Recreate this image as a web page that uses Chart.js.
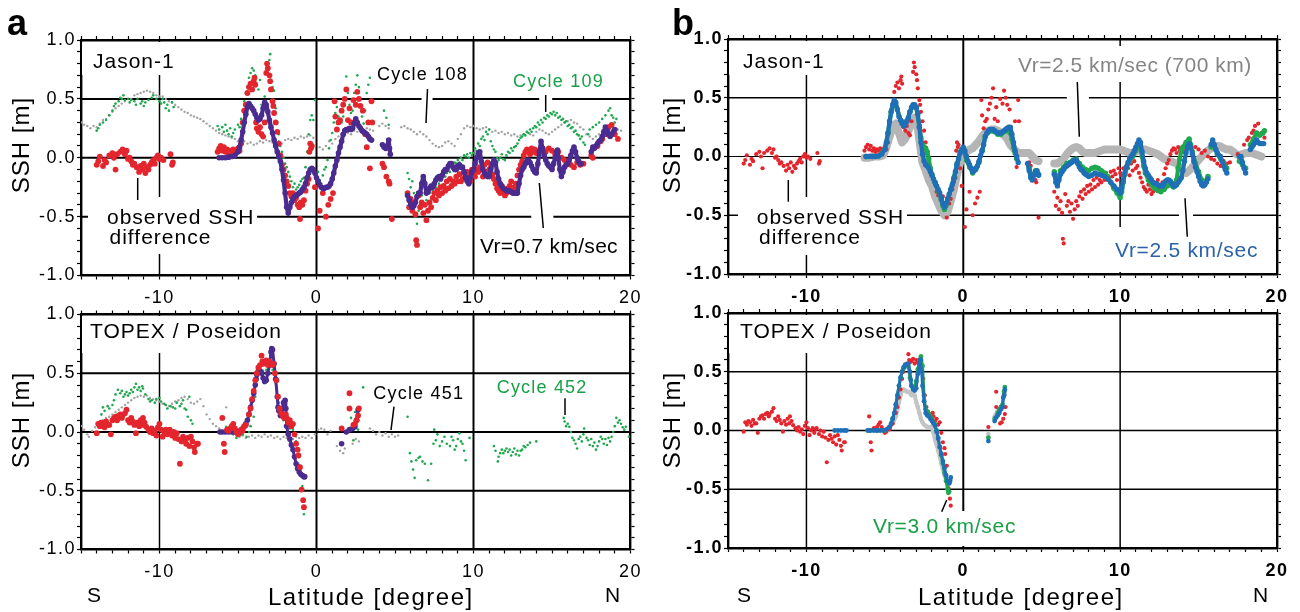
<!DOCTYPE html>
<html><head><meta charset="utf-8">
<script src="https://cdn.jsdelivr.net/npm/chart.js@4.4.1/dist/chart.umd.min.js"></script>
<style>
html,body{margin:0;padding:0;background:#fff;width:1300px;height:612px;overflow:hidden;position:relative}
canvas{position:absolute}
</style></head><body>
<canvas id="cA1" width="650" height="312" style="left:0px;top:0px"></canvas>
<canvas id="cA2" width="650" height="312" style="left:0px;top:300px"></canvas>
<canvas id="cB1" width="650" height="312" style="left:650px;top:0px"></canvas>
<canvas id="cB2" width="650" height="312" style="left:650px;top:300px"></canvas>
<script>
// ---------------- tick labels ----------------
const xTickValues = [-10, 0, 10, 20];
const xTickLabels = ['-10', '0', '10', '20'];
const yTickValues = [-1, -0.5, 0, 0.5, 1];
const yTickLabels = ['-1.0', '-0.5', '0.0', '0.5', '1.0'];

// ---------------- Jason-1 ----------------
const jasonObs = [[-14.0,-0.06],[-13.9,-0.03],[-13.8,0.01],[-13.6,-0.07],[-13.5,-0.02],[-13.4,-0.04],[-13.2,0.02],[-13.0,0.04],[-12.9,0.0],[-12.8,-0.1],[-12.7,0.03],[-12.5,0.05],[-12.35,0.07],[-12.2,0.03],[-12.1,0.06],[-12.0,-0.01],[-11.9,0.0],[-11.8,-0.03],[-11.7,-0.06],[-11.6,-0.05],[-11.45,-0.08],[-11.3,-0.12],[-11.2,-0.07],[-11.1,-0.1],[-11.0,-0.05],[-10.9,-0.13],[-10.8,-0.08],[-10.7,-0.1],[-10.6,-0.06],[-10.5,-0.04],[-10.4,-0.02],[-10.3,-0.05],[-10.2,0.0],[-10.1,0.02],[-10.0,-0.01],[-9.9,0.0],[-9.75,-0.02],[-9.3,0.03],[-9.2,-0.06],[-9.15,-0.04],
[-6.3,0.05],[-6.2,0.08],[-6.1,0.1],[-6.0,0.06],[-5.9,0.09],[-5.8,0.05],[-5.7,0.07],[-5.6,0.04],[-5.5,0.06],[-5.4,0.05],[-5.3,0.07],[-5.2,0.04],[-5.1,0.06],[-5.0,0.08],[-4.9,0.06],[-4.8,0.12],
[-4.7,0.3],[-4.6,0.4],[-4.5,0.45],[-4.4,0.55],[-4.3,0.6],[-4.2,0.63],[-4.1,0.58],[-4.0,0.65],[-3.95,0.68],[-3.9,0.62],[-3.85,0.3],[-3.8,0.25],[-3.7,0.22],[-3.6,0.26],[-3.5,0.2],[-3.4,0.18],[-3.3,0.3],[-3.2,0.72],[-3.15,0.8],[-3.1,0.76],[-3.0,0.7],[-2.95,0.65],[-2.9,0.58],[-2.8,0.48],[-2.75,0.44],[-2.7,0.38],[-2.6,0.3],[-2.5,0.22],[-2.4,0.12],[-2.3,0.02],[-2.2,-0.06],[-2.1,-0.1],[-2.0,-0.15],[-1.9,-0.2],[-1.8,-0.24],[-1.7,-0.3],[-1.6,-0.33],[-1.5,-0.3],[-1.4,-0.36],[-1.3,-0.34],[-1.2,-0.4],[-1.1,-0.42],[-1.05,-0.52],[-1.0,-0.38],[-0.9,-0.4],[-0.8,-0.36],[-0.7,-0.28],[-0.6,-0.22],[-0.5,-0.18],[-0.45,0.05],[-0.4,0.12],[-0.35,0.08],[-0.3,0.1],[-0.2,-0.1],[-0.1,-0.25],[0.1,-0.6],[0.2,-0.45],[0.4,-0.3],[0.6,-0.5],[0.75,-0.4],[0.9,-0.35],[1.05,-0.3],[1.15,0.48],[1.2,0.35],[1.3,0.24],[1.4,0.3],[1.5,0.32],[1.6,0.4],[1.7,0.45],[1.8,0.5],[1.9,0.58],[2.0,0.32],[2.1,0.42],[2.2,0.3],[2.35,0.49],[2.5,0.45],[2.6,0.56],[2.7,0.5],[2.8,0.44],[2.95,0.4],[3.1,0.2],[3.2,0.09],[3.3,0.3],[3.4,-0.09],[3.5,0.48],[3.55,0.3],[4.2,-0.05],[4.3,-0.08],[4.45,-0.16],[4.6,-0.2],[4.65,-0.22],[4.8,-0.52],
[5.8,-0.3],[5.9,-0.42],[6.0,-0.35],[6.1,-0.45],[6.2,-0.38],[6.3,-0.48],[6.35,-0.7],[6.4,-0.74],[6.5,-0.32],[6.6,-0.42],[6.7,-0.38],[6.8,-0.47],[6.9,-0.4],[7.0,-0.53],[7.1,-0.45],[7.2,-0.38],[7.3,-0.42],[7.4,-0.34],[7.5,-0.3],[7.6,-0.36],[7.7,-0.28],[7.8,-0.32],[7.9,-0.25],[8.0,-0.3],[8.1,-0.24],[8.2,-0.28],[8.3,-0.2],[8.4,-0.26],[8.5,-0.18],[8.6,-0.24],[8.7,-0.2],[8.8,-0.22],[8.9,-0.16],[9.0,-0.2],[9.1,-0.14],[9.2,-0.2],[9.3,-0.18],[9.4,-0.13],[9.5,-0.17],[9.6,-0.12],[9.7,-0.15],[9.8,-0.2],[9.9,-0.1],[10.0,-0.14],[10.1,-0.16],[10.2,-0.1],[10.3,-0.12],[10.4,-0.08],[10.5,-0.1],[10.6,-0.16],[10.7,-0.06],[10.8,-0.12],[10.9,-0.04],[11.0,-0.1],[11.1,-0.08],[11.2,-0.14],[11.3,-0.18],[11.4,-0.22],[11.5,-0.26],[11.6,-0.28],[11.7,-0.3],[11.8,-0.24],[11.9,-0.28],[12.0,-0.32],[12.1,-0.3],[12.2,-0.26],[12.3,-0.24],[12.4,-0.2],[12.5,-0.28],[12.6,-0.25],[12.7,-0.22],[12.8,-0.15],[12.9,-0.1],[13.0,-0.06],[13.1,-0.03],[13.2,0.02],[13.3,0.05],[13.4,0.07],[13.5,0.06],[13.6,0.03],[13.7,0.08],[13.8,0.05],[13.9,0.07],[14.0,0.04],[14.2,0.06],[14.4,0.08],[14.6,0.05],[14.8,0.08],[15.0,0.06],[15.2,0.03],[15.4,0.05],[15.6,0.0],[15.8,-0.02],[16.0,-0.03],[16.2,-0.06],[16.4,-0.08],[16.6,-0.04],[16.8,-0.06],[17.0,-0.05],[17.5,0.02],[17.6,0.0],[17.9,0.1],[18.1,0.14],[18.2,0.16],[18.4,0.2],[18.5,0.22],[18.6,0.26],[18.8,0.28],[19.0,0.2],[19.2,0.16]];

const jasonCycle108 = [[-15.0,0.3],[-14.8,0.28],[-14.6,0.27],[-14.4,0.25],[-14.2,0.27],[-14.0,0.26],[-13.8,0.29],[-13.6,0.32],[-13.4,0.33],[-13.2,0.36],[-13.0,0.39],[-12.8,0.42],[-12.6,0.44],[-12.4,0.46],[-12.2,0.48],[-12.0,0.5],[-11.8,0.5],[-11.6,0.53],[-11.4,0.54],[-11.2,0.55],[-11.0,0.56],[-10.8,0.57],[-10.6,0.56],[-10.4,0.55],[-10.2,0.53],[-10.0,0.52],[-9.8,0.52],[-9.6,0.5],[-9.4,0.48],[-9.2,0.47],[-9.0,0.45],[-8.8,0.43],[-8.6,0.41],[-8.4,0.39],[-8.2,0.38],[-8.0,0.36],[-7.8,0.35],[-7.6,0.34],[-7.4,0.33],[-7.2,0.31],[-7.0,0.29],[-6.8,0.27],[-6.6,0.25],[-6.4,0.23],[-6.2,0.21],[-6.0,0.2],[-5.8,0.19],[-5.6,0.18],[-5.4,0.17],[-5.2,0.16],[-5.0,0.14],[-4.8,0.13],[-4.6,0.14],[-4.4,0.12],[-4.2,0.13],[-4.0,0.11],[-3.8,0.12],[-3.6,0.14],[-3.4,0.13],[-3.2,0.15],[-3.0,0.14],[-2.8,0.13],[-2.6,0.15],[-2.4,0.14],[-2.2,0.12],[-2.0,0.15],[-1.8,0.16],[-1.6,0.15],[-1.4,0.17],[-1.2,0.16],[-1.0,0.18],[-0.8,0.17],[-0.6,0.18],[-0.4,0.19],[-0.2,0.17],[0.2,0.09],[0.4,0.07],[0.6,0.1],[0.8,0.14],[1.0,0.12],[1.2,0.16],[1.4,0.18],[1.6,0.2],[1.8,0.19],[2.0,0.21],[2.2,0.2],[2.4,0.23],[2.6,0.22],[2.8,0.24],[3.0,0.23],[3.2,0.25],[3.4,0.24],[3.6,0.23],[4.0,0.27],[4.2,0.29],[4.4,0.27],[4.6,0.25],[5.4,0.26],[5.6,0.27],[5.8,0.25],[6.0,0.24],[6.2,0.22],[6.4,0.2],[6.6,0.22],[6.8,0.2],[7.0,0.18],[7.2,0.15],[7.4,0.12],[7.6,0.1],[7.8,0.09],[8.0,0.1],[8.2,0.13],[8.4,0.14],[8.6,0.12],[8.8,0.1],[9.0,0.16],[9.2,0.2],[9.4,0.25],[9.6,0.27],[9.8,0.26],[10.0,0.27],[10.2,0.25],[10.4,0.24],[10.6,0.25],[10.8,0.26],[11.0,0.24],[11.2,0.22],[11.4,0.23],[11.6,0.21],[11.8,0.22],[12.0,0.2],[12.2,0.21],[12.4,0.19],[12.6,0.2],[12.8,0.18],[13.0,0.19],[13.2,0.2],[13.4,0.22],[13.6,0.2],[13.8,0.19],[14.0,0.22],[14.2,0.24],[14.4,0.23],[14.6,0.21],[14.8,0.2],[15.0,0.22],[15.2,0.24],[15.4,0.26],[15.6,0.28],[15.8,0.3],[16.0,0.31],[16.2,0.32],[16.4,0.3],[16.6,0.29],[16.8,0.26],[17.0,0.24],[17.2,0.2],[17.4,0.18],[17.6,0.16],[17.8,0.18],[18.0,0.2],[18.2,0.22],[18.4,0.25],[18.6,0.27],[18.8,0.26],[19.0,0.25],[19.2,0.24],[19.4,0.23]];

const jasonCycle109 = [[-14.0,0.23],[-13.9,0.25],[-13.8,0.28],[-13.6,0.3],[-13.4,0.32],[-13.2,0.36],[-13.0,0.4],[-12.9,0.44],[-12.8,0.46],[-12.6,0.48],[-12.5,0.51],[-12.4,0.5],[-12.3,0.53],[-12.2,0.49],[-12.0,0.5],[-11.9,0.47],[-11.8,0.49],[-11.6,0.48],[-11.5,0.45],[-11.4,0.5],[-11.2,0.46],[-11.1,0.48],[-11.0,0.44],[-10.9,0.47],[-10.7,0.49],[-10.5,0.51],[-10.4,0.53],[-10.2,0.5],[-10.0,0.48],[-9.9,0.46],[-9.8,0.5],[-9.7,0.47],[-9.6,0.42],[-9.5,0.45],[-9.4,0.4],[-9.2,0.47],[-9.1,0.43],
[-6.3,0.27],[-6.2,0.24],[-6.0,0.26],[-5.9,0.22],[-5.8,0.28],[-5.7,0.23],[-5.6,0.2],[-5.5,0.25],[-5.4,0.18],[-5.3,0.21],[-5.2,0.24],[-5.0,0.28],[-4.9,0.26],[-4.8,0.33],[-4.7,0.4],[-4.6,0.48],[-4.5,0.55],[-4.4,0.6],[-4.3,0.68],[-4.2,0.72],[-4.1,0.76],[-4.0,0.74],[-3.9,0.7],[-3.8,0.62],[-3.7,0.58],[-3.6,0.66],[-3.5,0.45],[-3.4,0.4],[-3.3,0.52],[-3.2,0.8],[-3.1,0.75],[-3.0,0.83],[-2.95,0.88],[-2.9,0.7],[-2.8,0.6],[-2.7,0.57],[-2.6,0.42],[-2.5,0.3],[-2.4,0.2],[-2.3,0.1],[-2.2,0.05],[-2.1,0.0],[-2.0,-0.05],[-1.9,-0.08],[-1.8,-0.12],[-1.7,-0.16],[-1.6,-0.2],[-1.5,-0.25],[-1.4,-0.22],[-1.3,-0.27],[-1.2,-0.25],[-1.1,-0.23],[-1.0,-0.2],[-0.9,-0.18],[-0.8,-0.17],[-0.7,-0.08],[-0.6,0.05],[-0.5,0.2],[-0.4,0.32],[-0.3,0.36],[-0.2,0.32],[-0.1,0.49],[0.1,-0.12],[0.2,-0.19],[0.3,-0.22],[0.4,-0.15],[0.5,-0.1],[0.6,-0.08],[0.7,-0.02],[0.8,0.08],[0.9,0.15],[1.0,0.21],[1.1,0.3],[1.2,0.38],[1.3,0.43],[1.4,0.35],[1.5,0.4],[1.6,0.3],[1.7,0.35],[1.8,0.5],[1.9,0.69],[2.0,0.55],[2.1,0.45],[2.2,0.38],[2.3,0.4],[2.4,0.55],[2.5,0.62],[2.6,0.7],[2.7,0.6],[2.8,0.45],[2.9,0.35],[3.0,0.29],[3.1,0.4],[3.2,0.55],[3.3,0.62],[3.4,0.68],[3.5,0.3],[3.6,0.15],[4.3,0.4],[4.45,0.34],[4.6,0.28],
[5.8,-0.13],[5.9,-0.18],[6.0,-0.25],[6.1,-0.2],[6.2,-0.3],[6.3,-0.5],[6.4,-0.56],[6.5,-0.45],[6.6,-0.4],[6.7,-0.32],[6.8,-0.38],[6.9,-0.3],[7.0,-0.36],[7.1,-0.28],[7.2,-0.3],[7.3,-0.24],[7.4,-0.28],[7.5,-0.22],[7.6,-0.25],[7.7,-0.18],[7.8,-0.22],[7.9,-0.15],[8.0,-0.18],[8.1,-0.12],[8.2,-0.16],[8.3,-0.13],[8.4,-0.08],[8.5,-0.12],[8.6,-0.06],[8.7,-0.09],[8.8,-0.04],[8.9,-0.05],[9.0,-0.02],[9.1,-0.04],[9.2,0.0],[9.3,-0.02],[9.4,0.02],[9.5,0.01],[9.6,0.03],[9.7,0.0],[9.8,0.04],[9.9,0.02],[10.0,0.04],[10.1,0.08],[10.2,0.06],[10.3,0.12],[10.4,0.1],[10.5,0.16],[10.6,0.18],[10.7,0.15],[10.8,0.22],[10.9,0.2],[11.0,0.24],[11.1,0.14],[11.2,0.1],[11.3,0.07],[11.4,0.05],[11.5,0.0],[11.6,-0.02],[11.7,0.0],[11.8,0.03],[11.9,-0.01],[12.0,-0.02],[12.1,0.02],[12.2,0.05],[12.3,0.04],[12.4,0.08],[12.5,0.06],[12.6,0.09],[12.7,0.1],[12.8,0.12],[12.9,0.15],[13.0,0.17],[13.1,0.18],[13.2,0.2],[13.3,0.19],[13.4,0.22],[13.5,0.21],[13.6,0.24],[13.7,0.22],[13.8,0.25],[13.9,0.27],[14.0,0.26],[14.1,0.3],[14.2,0.28],[14.3,0.32],[14.4,0.3],[14.5,0.34],[14.6,0.33],[14.7,0.36],[14.8,0.35],[14.9,0.38],[15.0,0.37],[15.1,0.39],[15.2,0.36],[15.3,0.38],[15.4,0.34],[15.5,0.35],[15.6,0.32],[15.7,0.33],[15.8,0.3],[15.9,0.31],[16.0,0.27],[16.1,0.28],[16.2,0.25],[16.3,0.26],[16.4,0.22],[16.5,0.23],[16.6,0.2],[16.7,0.19],[16.8,0.16],[16.9,0.18],[17.0,0.13],[17.1,0.11],[17.3,0.2],[17.4,0.24],[17.6,0.26],[17.8,0.28],[18.0,0.3],[18.2,0.33],[18.4,0.36],[18.6,0.4],[18.7,0.42],[18.8,0.36],[18.9,0.34],[19.0,0.3],[19.1,0.33]];

const jasonVr07 = [[-6.2,0.0],[-6.0,0.0],[-5.8,0.0],[-5.6,0.005],[-5.4,0.01],[-5.2,0.02],[-5.0,0.05],[-4.9,0.09],[-4.8,0.15],[-4.7,0.22],[-4.6,0.3],[-4.5,0.37],[-4.4,0.43],[-4.3,0.46],[-4.2,0.44],[-4.1,0.42],[-4.0,0.4],[-3.9,0.37],[-3.8,0.34],[-3.7,0.32],[-3.6,0.33],[-3.5,0.36],[-3.4,0.42],[-3.3,0.47],[-3.2,0.45],[-3.1,0.39],[-3.0,0.32],[-2.9,0.26],[-2.8,0.21],[-2.7,0.15],[-2.6,0.1],[-2.5,0.05],[-2.4,0.01],[-2.3,-0.03],[-2.2,-0.1],[-2.1,-0.19],[-2.0,-0.3],[-1.9,-0.42],[-1.8,-0.47],[-1.7,-0.42],[-1.6,-0.38],[-1.5,-0.35],[-1.4,-0.33],[-1.3,-0.32],[-1.2,-0.31],[-1.1,-0.3],[-1.0,-0.29],[-0.9,-0.27],[-0.8,-0.25],[-0.7,-0.22],[-0.6,-0.17],[-0.5,-0.13],[-0.4,-0.1],[-0.3,-0.09],[-0.2,-0.1],[-0.1,-0.13],[0.0,-0.17],[0.1,-0.2],[0.2,-0.23],[0.3,-0.25],[0.4,-0.26],[0.5,-0.26],[0.6,-0.25],[0.7,-0.25],[0.8,-0.24],[0.9,-0.22],[1.0,-0.18],[1.1,-0.13],[1.2,-0.07],[1.3,-0.02],[1.4,0.04],[1.5,0.09],[1.6,0.14],[1.7,0.2],[1.8,0.23],[1.9,0.24],[2.0,0.24],[2.1,0.25],[2.2,0.24],[2.3,0.25],[2.4,0.29],[2.5,0.33],[2.6,0.3],[2.7,0.27],[2.8,0.25],[2.9,0.23],[3.0,0.22],[3.1,0.21],[3.2,0.2],[3.3,0.18],[3.4,0.16],[3.5,0.15],null,
[4.2,0.11],[4.3,0.09],[4.4,0.08],[4.5,0.1],[4.6,0.15],[4.65,0.08],[4.7,0.03],null,
[5.8,-0.32],[5.9,-0.36],[6.0,-0.4],[6.1,-0.42],[6.2,-0.41],[6.3,-0.38],[6.4,-0.33],[6.5,-0.3],[6.6,-0.3],[6.7,-0.22],[6.8,-0.16],[6.9,-0.22],[7.0,-0.3],[7.1,-0.29],[7.2,-0.26],[7.3,-0.24],[7.4,-0.25],[7.5,-0.22],[7.6,-0.19],[7.7,-0.17],[7.8,-0.16],[7.9,-0.18],[8.0,-0.15],[8.1,-0.12],[8.2,-0.1],[8.3,-0.1],[8.4,-0.07],[8.5,-0.05],[8.6,-0.05],[8.7,-0.08],[8.8,-0.1],[8.9,-0.1],[9.0,-0.07],[9.1,-0.06],[9.2,-0.08],[9.3,-0.08],[9.4,-0.12],[9.5,-0.17],[9.6,-0.2],[9.7,-0.22],[9.8,-0.17],[9.9,-0.12],[10.0,-0.1],[10.1,-0.05],[10.2,0.0],[10.3,0.04],[10.4,0.05],[10.5,-0.03],[10.6,-0.1],[10.7,-0.13],[10.8,-0.15],[10.9,-0.16],[11.0,-0.16],[11.1,-0.1],[11.2,-0.05],[11.3,-0.02],[11.4,-0.04],[11.5,-0.12],[11.6,-0.18],[11.7,-0.22],[11.8,-0.24],[11.9,-0.26],[12.0,-0.27],[12.1,-0.28],[12.2,-0.28],[12.3,-0.28],[12.4,-0.29],[12.5,-0.3],[12.6,-0.3],[12.7,-0.3],[12.8,-0.3],[12.9,-0.22],[13.0,-0.15],[13.1,-0.1],[13.2,-0.08],[13.3,-0.05],[13.4,-0.03],[13.5,-0.02],[13.6,-0.04],[13.7,-0.07],[13.8,-0.1],[13.9,-0.12],[14.0,-0.13],[14.1,-0.05],[14.2,0.05],[14.3,0.14],[14.4,0.08],[14.5,0.02],[14.6,-0.02],[14.7,-0.05],[14.8,-0.07],[14.9,-0.08],[15.0,-0.1],[15.1,-0.05],[15.2,0.0],[15.3,0.05],[15.35,0.065],[15.4,0.0],[15.5,-0.1],[15.6,-0.16],[15.7,-0.12],[15.8,-0.08],[15.9,-0.06],[16.0,-0.05],[16.1,-0.02],[16.2,0.02],[16.3,0.06],[16.4,0.09],[16.5,0.05],[16.6,0.0],[16.7,-0.03],[16.8,-0.05],[16.85,-0.05],null,
[17.5,0.05],[17.6,0.09],[17.7,0.08],[17.8,0.1],[17.9,0.12],[18.0,0.14],[18.1,0.15],[18.2,0.18],[18.3,0.22],[18.4,0.26],[18.5,0.23],[18.6,0.2],[18.7,0.18],[18.8,0.2],[18.9,0.22],[19.0,0.24]];

const jasonVr25w700 = [[-6.3,-0.01],[-6.0,-0.01],[-5.7,0.0],[-5.4,0.0],[-5.1,0.01],[-4.9,0.08],[-4.7,0.17],[-4.5,0.25],[-4.3,0.28],[-4.1,0.2],[-3.9,0.12],[-3.7,0.15],[-3.5,0.22],[-3.3,0.28],[-3.1,0.33],[-2.95,0.3],[-2.8,0.14],[-2.6,-0.05],[-2.4,-0.12],[-2.2,-0.2],[-2.0,-0.25],[-1.8,-0.34],[-1.6,-0.4],[-1.4,-0.46],[-1.2,-0.5],[-1.0,-0.47],[-0.8,-0.38],[-0.6,-0.28],[-0.4,-0.15],[-0.2,-0.05],[0.0,0.0],[0.2,0.04],[0.4,0.06],[0.6,0.07],[0.8,0.1],[1.0,0.13],[1.2,0.17],[1.4,0.2],[1.6,0.22],[1.8,0.23],[2.0,0.23],[2.2,0.22],[2.4,0.2],[2.6,0.18],[2.8,0.15],[3.0,0.1],[3.2,0.07],[3.4,0.04],[3.6,0.03],[3.8,0.03],[4.0,0.03],[4.2,0.03],[4.4,0.0],[4.6,-0.03],[4.8,-0.04],null,
[5.8,-0.06],[6.0,-0.06],[6.2,-0.04],[6.4,-0.02],[6.6,0.02],[6.8,0.05],[7.0,0.07],[7.2,0.08],[7.4,0.07],[7.6,0.04],[7.8,0.03],[8.0,0.03],[8.2,0.03],[8.4,0.03],[8.6,0.04],[8.8,0.05],[9.0,0.06],[9.2,0.06],[9.4,0.06],[9.6,0.06],[9.8,0.06],[10.0,0.06],[10.2,0.05],[10.4,0.04],[10.6,0.03],[10.8,0.03],[11.0,0.04],[11.2,0.05],[11.4,0.06],[11.6,0.06],[11.8,0.05],[12.0,0.04],[12.2,0.03],[12.4,0.02],[12.6,0.0],[12.8,-0.02],[13.0,-0.03],[13.2,-0.04],[13.4,-0.05],[13.6,-0.06],[13.8,-0.09],[14.0,-0.12],[14.2,-0.14],[14.4,-0.12],[14.6,-0.09],[14.8,-0.06],[15.0,-0.03],[15.2,0.0],[15.4,0.03],[15.6,0.05],[15.8,0.07],[16.0,0.08],[16.2,0.09],[16.4,0.085],[16.6,0.07],[16.8,0.06],[17.0,0.06],[17.2,0.04],[17.4,0.02],[17.6,0.01],[17.8,0.02],[18.0,0.03],[18.2,0.03],[18.4,0.03],[18.6,0.02],[18.8,0.01],[19.0,0.0]];

const jasonVr25 = [[-6.2,0.0],[-6.0,0.0],[-5.8,0.0],[-5.6,0.0],[-5.4,0.005],[-5.2,0.02],[-5.0,0.06],[-4.9,0.12],[-4.8,0.2],[-4.7,0.3],[-4.6,0.38],[-4.5,0.44],[-4.4,0.48],[-4.3,0.46],[-4.2,0.4],[-4.1,0.34],[-4.0,0.31],[-3.9,0.28],[-3.8,0.26],[-3.7,0.27],[-3.6,0.3],[-3.5,0.33],[-3.4,0.38],[-3.3,0.42],[-3.2,0.44],[-3.1,0.44],[-3.0,0.42],[-2.9,0.36],[-2.8,0.25],[-2.7,0.12],[-2.6,0.02],[-2.5,-0.04],[-2.4,-0.07],[-2.3,-0.08],[-2.2,-0.1],[-2.1,-0.13],[-2.0,-0.16],[-1.9,-0.19],[-1.8,-0.22],[-1.7,-0.25],[-1.6,-0.28],[-1.5,-0.31],[-1.4,-0.36],[-1.3,-0.4],[-1.2,-0.43],[-1.1,-0.4],[-1.0,-0.36],[-0.9,-0.32],[-0.8,-0.28],[-0.7,-0.24],[-0.6,-0.19],[-0.5,-0.13],[-0.4,-0.07],[-0.3,-0.02],[-0.2,0.03],[-0.1,0.06],[0.0,0.08],[0.1,0.05],[0.2,0.0],[0.3,-0.04],[0.4,-0.07],[0.5,-0.1],[0.6,-0.13],[0.7,-0.12],[0.8,-0.1],[0.9,-0.08],[1.0,-0.04],[1.1,0.01],[1.2,0.05],[1.3,0.1],[1.4,0.17],[1.5,0.2],[1.6,0.22],[1.7,0.23],[1.8,0.23],[1.9,0.23],[2.0,0.22],[2.1,0.21],[2.2,0.2],[2.3,0.2],[2.4,0.2],[2.5,0.21],[2.6,0.22],[2.7,0.23],[2.8,0.24],[2.9,0.25],[3.0,0.25],[3.1,0.19],[3.2,0.12],[3.3,0.05],[3.4,0.0],[3.5,-0.05],null,
[4.1,-0.06],[4.2,-0.12],[4.3,-0.18],[4.4,-0.2],[4.5,-0.16],[4.6,-0.13],[4.7,-0.12],[4.8,-0.16],null,
[5.8,-0.15],[5.9,-0.22],[6.0,-0.25],[6.1,-0.2],[6.2,-0.15],[6.3,-0.13],[6.4,-0.11],[6.5,-0.09],[6.6,-0.08],[6.7,-0.07],[6.8,-0.06],[6.9,-0.05],[7.0,-0.04],[7.1,-0.03],[7.2,-0.03],[7.3,-0.06],[7.4,-0.09],[7.5,-0.11],[7.6,-0.12],[7.7,-0.14],[7.8,-0.15],[7.9,-0.16],[8.0,-0.17],[8.2,-0.16],[8.4,-0.14],[8.6,-0.15],[8.8,-0.16],[9.0,-0.17],[9.2,-0.19],[9.4,-0.22],[9.6,-0.25],[9.8,-0.28],[10.0,-0.31],[10.1,-0.27],[10.2,-0.2],[10.3,-0.14],[10.4,-0.09],[10.5,-0.05],[10.6,-0.02],[10.7,0.0],[10.8,0.02],[10.9,0.05],[11.0,0.08],[11.1,0.11],[11.2,0.14],[11.3,0.12],[11.4,0.04],[11.5,-0.04],[11.6,-0.1],[11.7,-0.14],[11.8,-0.16],[11.9,-0.18],[12.0,-0.2],[12.1,-0.22],[12.2,-0.23],[12.3,-0.23],[12.4,-0.24],[12.5,-0.25],[12.6,-0.25],[12.7,-0.25],[12.8,-0.23],[12.9,-0.21],[13.0,-0.2],[13.1,-0.2],[13.2,-0.21],[13.3,-0.23],[13.4,-0.25],[13.5,-0.25],[13.6,-0.24],[13.7,-0.22],[13.8,-0.2],[13.9,-0.18],[14.0,-0.12],[14.1,-0.04],[14.2,0.03],[14.3,0.08],[14.4,0.11],[14.5,0.08],[14.6,0.02],[14.7,-0.04],[14.8,-0.09],[14.9,-0.13],[15.0,-0.17],[15.1,-0.21],[15.2,-0.24],[15.3,-0.25],[15.4,-0.24],[15.5,-0.22],[15.6,-0.19],null,
[15.8,0.1],[15.9,0.14],[16.0,0.1],[16.1,0.06],[16.2,0.03],[16.3,0.01],[16.4,0.0],[16.5,-0.04],[16.6,-0.08],[16.7,-0.11],[16.8,-0.14],null,
[17.6,0.0],[17.7,0.0],[17.8,-0.05],[17.9,-0.1],[18.0,-0.14],null,
[18.3,0.06],[18.4,0.08],[18.5,0.1],[18.6,0.12],[18.7,0.14],[18.8,0.12],[18.9,0.11],[19.0,0.11],[19.15,0.11]];

const jasonVr30 = [[-6.2,0.0],[-5.8,0.0],[-5.4,0.005],[-5.0,0.06],[-4.8,0.2],[-4.6,0.38],[-4.4,0.47],[-4.2,0.4],[-4.0,0.31],[-3.8,0.27],[-3.6,0.3],[-3.4,0.38],[-3.2,0.43],[-3.0,0.42],[-2.8,0.26],[-2.7,0.16],[-2.6,0.1],[-2.5,0.08],[-2.4,0.07],[-2.3,0.04],[-2.2,-0.02],[-2.1,-0.1],[-2.0,-0.15],[-1.8,-0.22],[-1.6,-0.29],[-1.4,-0.37],[-1.3,-0.42],[-1.2,-0.45],[-1.1,-0.42],[-1.0,-0.37],[-0.8,-0.28],[-0.6,-0.18],[-0.4,-0.06],[-0.2,0.04],[0.0,0.07],[0.2,-0.03],[0.4,-0.09],[0.6,-0.14],[0.8,-0.11],[1.0,-0.05],[1.2,0.05],[1.4,0.17],[1.6,0.21],[1.8,0.22],[2.0,0.21],[2.2,0.19],[2.4,0.19],[2.6,0.21],[2.8,0.22],[3.0,0.2],[3.1,0.15],[3.2,0.08],[3.3,0.03],[3.4,-0.02],null,
[4.2,-0.1],[4.3,-0.15],[4.4,-0.18],[4.6,-0.12],[4.8,-0.15],null,
[5.8,-0.13],[5.9,-0.18],[6.0,-0.2],[6.2,-0.12],[6.4,-0.09],[6.6,-0.06],[6.8,-0.05],[7.0,-0.03],[7.2,-0.02],[7.4,-0.06],[7.6,-0.09],[7.8,-0.11],[8.0,-0.12],[8.2,-0.1],[8.4,-0.09],[8.6,-0.1],[8.8,-0.12],[9.0,-0.14],[9.2,-0.17],[9.4,-0.22],[9.6,-0.27],[9.8,-0.31],[10.0,-0.35],[10.1,-0.3],[10.2,-0.22],[10.3,-0.15],[10.4,-0.1],[10.6,-0.04],[10.8,0.0],[11.0,0.05],[11.2,0.1],[11.3,0.08],[11.4,0.0],[11.5,-0.08],[11.6,-0.14],[11.8,-0.2],[12.0,-0.24],[12.2,-0.27],[12.4,-0.29],[12.6,-0.3],[12.8,-0.28],[13.0,-0.25],[13.2,-0.24],[13.4,-0.26],[13.6,-0.2],[13.7,-0.1],[13.8,-0.02],[13.9,0.05],[14.0,0.08],[14.2,0.12],[14.4,0.15],[14.5,0.1],[14.6,0.04],[14.8,-0.06],[15.0,-0.13],[15.2,-0.2],[15.4,-0.22],[15.6,-0.17],null,
[15.8,0.08],[16.0,0.08],[16.2,0.02],[16.4,-0.02],[16.6,-0.06],[16.8,-0.1],null,
[17.6,-0.04],[17.8,-0.07],[18.0,-0.1],null,
[18.3,0.1],[18.5,0.15],[18.7,0.2],[18.9,0.18],[19.1,0.2],[19.2,0.22]];

// ---------------- TOPEX / Poseidon ----------------
const topexObs = [[-14.0,-0.01],[-13.9,0.07],[-13.8,0.05],[-13.7,0.08],[-13.6,0.07],[-13.5,0.04],[-13.4,0.09],[-13.3,0.06],[-13.2,0.06],[-13.1,-0.02],[-13.0,0.1],[-12.9,0.12],[-12.8,0.13],[-12.7,0.1],[-12.6,0.14],[-12.5,0.15],[-12.4,0.12],[-12.35,0.14],[-12.2,0.16],[-12.1,0.19],[-12.0,0.1],[-11.9,0.08],[-11.8,0.12],[-11.7,0.09],[-11.6,0.06],[-11.5,-0.01],[-11.4,0.08],[-11.3,0.05],[-11.2,0.1],[-11.1,0.06],[-11.05,0.12],[-10.95,0.08],[-10.85,0.045],[-10.7,0.02],[-10.6,0.0],[-10.5,0.03],[-10.4,-0.01],[-10.3,0.01],[-10.2,-0.03],[-10.1,0.04],[-10.0,0.07],[-9.9,0.02],[-9.8,-0.04],[-9.7,0.0],[-9.6,0.02],[-9.5,-0.02],[-9.4,0.01],[-9.35,0.02],[-9.2,-0.03],[-9.1,0.0],[-9.0,-0.05],[-8.9,-0.01],[-8.8,-0.06],[-8.7,-0.27],[-8.6,-0.08],[-8.5,-0.04],[-8.4,-0.07],[-8.3,-0.1],[-8.2,-0.05],[-8.1,-0.12],[-8.0,-0.04],[-7.9,-0.08],[-7.8,-0.13],[-7.75,-0.17],[-7.6,-0.1],[-7.55,-0.1],
[-6.0,0.12],[-5.9,-0.1],[-5.85,-0.17],[-5.7,0.02],[-5.6,0.01],[-5.5,0.03],[-5.4,0.05],[-5.3,0.07],[-5.2,0.03],[-5.1,0.0],[-5.0,-0.02],[-4.9,-0.01],[-4.8,0.02],[-4.7,0.01],[-4.6,0.05],[-4.5,0.06],
[-4.3,0.15],[-4.2,0.2],[-4.1,0.28],[-4.0,0.35],[-3.9,0.44],[-3.8,0.5],[-3.7,0.55],[-3.6,0.57],[-3.5,0.65],[-3.45,0.6],[-3.4,0.58],[-3.3,0.59],[-3.2,0.61],[-3.1,0.57],[-3.0,0.6],[-2.9,0.58],[-2.8,0.57],[-2.75,0.58],[-2.65,0.5],[-2.55,0.44],[-2.45,0.3],[-2.35,0.2],[-2.25,0.16],[-2.15,0.14],[-2.05,0.12],[-1.95,0.15],[-1.9,0.12],[-1.8,0.08],[-1.7,0.1],[-1.6,0.05],[-1.5,0.07],[-1.4,-0.02],[-1.3,-0.1],[-1.2,-0.15],[-1.15,-0.2],[-1.05,-0.3],[-0.95,-0.49],[-0.85,-0.58],[-0.8,-0.64],
[1.6,0.03],[2.1,0.33],[2.1,0.2],[2.35,0.06],[2.45,0.07],[2.55,0.1],[2.65,0.14],[2.7,0.2]];

const topexCycle451 = [[-15.0,0.05],[-14.8,0.02],[-14.6,-0.02],[-14.5,-0.04],[-14.3,0.01],[-14.1,0.04],[-14.0,0.07],[-13.8,0.09],[-13.6,0.1],[-13.4,0.12],[-13.2,0.13],[-13.0,0.15],[-12.8,0.17],[-12.6,0.19],[-12.4,0.21],[-12.2,0.23],[-12.0,0.25],[-11.8,0.27],[-11.6,0.29],[-11.4,0.3],[-11.2,0.31],[-11.0,0.3],[-10.8,0.31],[-10.6,0.29],[-10.4,0.28],[-10.2,0.27],[-10.0,0.26],[-9.8,0.24],[-9.6,0.23],[-9.4,0.22],[-9.2,0.24],[-9.0,0.26],[-8.8,0.27],[-8.6,0.29],[-8.4,0.3],[-8.2,0.28],[-8.0,0.25],[-7.8,0.24],[-7.6,0.26],[-7.4,0.28],[-7.2,0.22],[-7.0,0.15],[-6.8,0.11],[-6.6,0.07],[-6.4,0.05],[-6.2,0.03],[-5.75,0.21],[-5.5,0.04],[-5.3,0.02],[-5.1,-0.02],[-4.9,-0.04],[-4.7,-0.03],[-4.5,-0.05],[-4.3,-0.04],[-4.1,-0.03],[-3.9,-0.05],[-3.7,-0.03],[-3.5,-0.04],[-3.3,-0.02],[-3.1,-0.04],[-2.9,-0.03],[-2.7,-0.05],[-2.5,-0.04],[-2.3,-0.06],[-2.1,-0.04],[-1.9,-0.05],[-1.7,-0.07],[-1.5,-0.06],[-1.3,-0.04],[-1.1,-0.05],[-0.9,-0.04],[-0.7,-0.05],[-0.5,-0.03],[-0.3,-0.05],[-0.1,-0.02],[0.1,0.02],[0.3,0.03],[0.5,0.02],[0.7,-0.02],[0.9,0.01],[1.3,-0.12],[1.5,-0.16],[1.7,-0.18],[1.8,-0.14],[2.3,-0.1],[2.5,-0.06],[2.7,-0.08],[3.4,0.03],[3.6,0.01],[3.8,-0.02],[4.0,0.0],[4.2,-0.03],[4.4,-0.01],[4.6,-0.04],[4.8,-0.02],[5.0,-0.04],[5.2,-0.03]];

const topexCycle452 = [[-13.8,0.09],[-13.7,0.15],[-13.6,0.21],[-13.5,0.18],[-13.3,0.22],[-13.2,0.2],[-13.0,0.23],[-12.9,0.27],[-12.8,0.32],[-12.65,0.36],[-12.5,0.33],[-12.4,0.35],[-12.3,0.3],[-12.2,0.32],[-12.1,0.34],[-12.0,0.31],[-11.9,0.33],[-11.8,0.36],[-11.7,0.34],[-11.6,0.38],[-11.5,0.41],[-11.4,0.36],[-11.3,0.38],[-11.2,0.35],[-11.1,0.39],[-11.05,0.37],[-10.9,0.32],[-10.7,0.28],[-10.6,0.26],[-10.5,0.27],[-10.3,0.25],[-10.2,0.28],[-10.0,0.29],[-9.9,0.26],[-9.7,0.24],[-9.6,0.23],[-9.5,0.2],[-9.3,0.22],[-9.15,0.21],[-9.0,0.2],[-8.9,0.25],[-8.7,0.22],[-8.6,0.24],[-8.5,0.27],[-8.4,0.2],[-8.3,0.19],[-8.2,0.13],[-8.1,0.3],[-8.0,0.1],[-7.9,0.07],
[-5.75,0.045],[-5.5,0.0],[-5.3,-0.02],[-5.1,-0.05],[-4.9,-0.03],[-4.7,-0.02],[-4.45,-0.04],[-4.3,0.0],[-4.2,0.05],[-4.0,0.13],[-3.9,0.3],[-3.8,0.45],[-3.6,0.5],[-3.4,0.52],[-3.2,0.53],[-3.0,0.5],[-2.8,0.53],[-2.6,0.42],[-2.4,0.25],[-2.2,0.12],[-2.1,0.1],[-1.9,0.06],[-1.7,0.03],[-1.5,0.02],[-1.3,-0.08],[-1.1,-0.28],[-0.9,-0.46],[-0.85,-0.49],[-0.8,-0.7],
[2.1,0.21],[2.2,0.12],[2.35,-0.07],[2.45,0.17],[2.65,0.02],[2.65,0.1],[2.97,0.38],
[5.8,0.13],[5.95,-0.18],[6.05,-0.25],[6.15,-0.32],[6.25,-0.39],[6.35,-0.24],[6.5,-0.22],[6.6,-0.21],[6.75,-0.25],[6.9,-0.27],[7.1,-0.41],[7.3,-0.27],[7.45,-0.1],[7.5,0.02],[7.6,-0.07],[7.7,-0.02],[7.85,-0.12],[8.0,-0.08],[8.15,-0.04],[8.3,-0.1],[8.5,-0.12],[8.6,-0.04],[8.7,-0.07],[8.8,-0.15],[8.9,-0.12],[9.0,-0.06],[9.1,-0.01],[9.2,-0.08],[9.3,-0.1],[9.4,-0.16],[9.5,-0.24],[9.75,-0.05],
[11.3,-0.12],[11.4,-0.16],[11.55,-0.25],[11.6,-0.21],[11.7,-0.18],[11.8,-0.15],[11.9,-0.18],[12.0,-0.16],[12.1,-0.14],[12.2,-0.17],[12.3,-0.15],[12.4,-0.2],[12.5,-0.17],[12.6,-0.14],[12.7,-0.19],[12.8,-0.16],[12.9,-0.2],[13.0,-0.16],[13.1,-0.15],[13.2,-0.12],[13.3,-0.13],[13.45,-0.11],[13.6,-0.09],[14.0,-0.08],
[15.75,0.12],[15.8,0.09],[15.9,0.05],[16.0,0.07],[16.1,0.045],[16.2,0.0],[16.3,-0.05],[16.4,-0.07],[16.5,-0.1],[16.6,-0.14],[16.7,-0.06],[16.8,-0.04],[16.9,-0.08],[17.0,-0.02],[17.05,0.03],[17.2,-0.05],[17.3,-0.07],[17.4,-0.11],[17.5,-0.06],[17.6,-0.12],[17.7,-0.09],[17.8,-0.15],[17.9,-0.12],[18.0,-0.08],[18.1,-0.04],[18.2,-0.06],[18.3,-0.1],[18.4,-0.06],[18.5,-0.11],[18.6,-0.05],[18.7,-0.08],[18.8,-0.04],[18.9,0.0],[19.0,0.05],[19.1,0.12],[19.2,0.08],[19.3,0.1],[19.4,0.07],[19.5,0.04],[19.6,0.02],[19.7,0.045],[19.9,-0.04]];

const topexVr07 = [[-6.15,0.0],[-6.0,0.0],[-5.8,0.0],[-5.6,0.0],[-5.4,0.0],[-5.2,0.0],[-5.0,0.005],[-4.8,0.015],[-4.7,0.03],[-4.6,0.05],[-4.5,0.07],[-4.4,0.1],[-4.3,0.15],[-4.2,0.21],[-4.1,0.27],[-4.0,0.33],[-3.9,0.4],[-3.85,0.45],[-3.8,0.49],[-3.7,0.52],[-3.6,0.52],[-3.5,0.5],[-3.4,0.46],[-3.3,0.43],[-3.2,0.44],[-3.1,0.5],[-3.0,0.57],[-2.9,0.68],[-2.85,0.71],[-2.8,0.7],[-2.7,0.58],[-2.6,0.45],[-2.5,0.3],[-2.45,0.21],[-2.4,0.18],[-2.3,0.14],[-2.2,0.19],[-2.1,0.25],[-2.0,0.27],[-1.95,0.2],[-1.9,0.05],[-1.8,-0.02],[-1.7,-0.06],[-1.6,-0.11],[-1.5,-0.15],[-1.4,-0.21],[-1.3,-0.27],[-1.2,-0.31],[-1.1,-0.34],[-1.0,-0.36],[-0.9,-0.37],[-0.8,-0.38],[-0.75,-0.38],null,
[1.6,-0.1],null,[1.9,0.0],[2.1,0.02],[2.3,0.03],[2.45,0.045],[2.55,0.1],[2.65,0.19]];

const topexVr25w700 = [[-6.0,0.0],[-5.5,0.0],[-5.0,0.0],[-4.7,0.02],[-4.5,0.06],[-4.3,0.12],[-4.2,0.18],[-4.1,0.24],[-4.0,0.3],[-3.9,0.34],[-3.8,0.35],[-3.7,0.34],[-3.6,0.33],[-3.5,0.33],[-3.4,0.32],[-3.3,0.3],[-3.2,0.31],[-3.1,0.3],[-3.0,0.24],[-2.9,0.2],[-2.8,0.15],[-2.7,0.1],[-2.6,0.07],[-2.5,0.05],[-2.4,0.04],[-2.3,0.03],[-2.2,0.03],[-2.1,0.03],[-2.0,0.02],[-1.9,-0.02],[-1.8,-0.08],[-1.7,-0.12],[-1.6,-0.17],[-1.5,-0.22],[-1.4,-0.28],[-1.3,-0.33],[-1.2,-0.38],[-1.1,-0.42],[-1.0,-0.45],[-0.9,-0.45],[-0.8,-0.42],null,
[1.6,-0.03],null,[2.0,0.12],[2.2,0.17],[2.4,0.19],[2.6,0.2]];

const topexVr25 = [[-8.2,0.0],[-8.0,0.0],[-7.8,0.0],[-7.6,0.0],[-7.45,0.0],null,
[-6.1,0.0],[-5.9,0.0],[-5.7,0.0],[-5.5,0.0],[-5.3,0.0],[-5.1,0.0],[-4.9,0.01],[-4.7,0.03],[-4.6,0.06],[-4.5,0.1],[-4.4,0.15],[-4.3,0.22],[-4.2,0.3],[-4.1,0.38],[-4.0,0.45],[-3.9,0.5],[-3.8,0.54],[-3.7,0.56],[-3.6,0.56],[-3.5,0.57],[-3.4,0.5],[-3.35,0.43],[-3.3,0.38],[-3.2,0.35],[-3.1,0.34],[-3.0,0.36],[-2.9,0.48],[-2.8,0.57],[-2.75,0.6],[-2.7,0.6],[-2.65,0.5],[-2.6,0.38],[-2.5,0.25],[-2.4,0.15],[-2.3,0.13],[-2.2,0.12],[-2.1,0.1],[-2.0,0.08],[-1.9,0.06],[-1.8,0.04],[-1.7,-0.01],[-1.6,-0.07],[-1.5,-0.14],[-1.4,-0.2],[-1.3,-0.26],[-1.2,-0.32],[-1.1,-0.38],[-1.0,-0.43],[-0.9,-0.45],[-0.85,-0.43],[-0.8,-0.4],null,
[1.6,-0.09],null,[2.0,0.08],[2.1,0.11],[2.2,0.13],[2.3,0.15],[2.4,0.18],[2.5,0.2],[2.55,0.28],[2.6,0.3],[2.65,0.35]];

const topexVr30 = [[-6.0,0.0],[-5.5,0.0],[-5.0,0.0],[-4.7,0.03],[-4.5,0.1],[-4.3,0.22],[-4.1,0.38],[-4.0,0.45],[-3.9,0.5],[-3.8,0.53],[-3.7,0.55],[-3.6,0.55],[-3.5,0.54],[-3.4,0.45],[-3.3,0.38],[-3.2,0.36],[-3.1,0.37],[-3.0,0.42],[-2.9,0.52],[-2.8,0.6],[-2.7,0.63],[-2.6,0.55],[-2.5,0.3],[-2.4,0.18],[-2.3,0.16],[-2.2,0.14],[-2.1,0.12],[-2.0,0.1],[-1.9,0.07],[-1.8,0.05],[-1.7,0.0],[-1.6,-0.06],[-1.5,-0.14],[-1.4,-0.21],[-1.3,-0.28],[-1.2,-0.36],[-1.1,-0.43],[-1.0,-0.5],[-0.95,-0.53],[-0.9,-0.52],null,
[1.6,-0.06],null,[2.0,0.1],[2.2,0.15],[2.3,0.18],[2.4,0.2],[2.5,0.22],[2.6,0.33],[2.65,0.37]];

// ---------------- styling ----------------
const FONT = '"Liberation Sans", Arial, Helvetica, sans-serif';
const RED = '#e3252d', PURPLE = '#4a2b8f', GREEN = '#1fa84f', GRAY = '#a3a3a3', BLUE = '#1f6fb7', GRAYTHICK = '#b5b5b5', GRAYLIGHT = '#c4c4c4';
const GREEN_T = '#18a047', GRAY_T = '#858585', BLUE_T = '#2b63a9';

function segments(arr) {
  const out = [[]];
  arr.forEach(p => { if (p === null) out.push([]); else out[out.length - 1].push(p); });
  return out.filter(s => s.length);
}
function dots(data, color, r, order) {
  return [{data, showLine: false, pointRadius: r, pointHoverRadius: r, pointBackgroundColor: color,
    pointBorderWidth: 0, order, xAxisID: 'x', yAxisID: 'y'}];
}
function chain(data, color, r, w, order) {
  return segments(data).map(seg => ({data: seg, showLine: true, borderColor: color, borderWidth: w,
    pointRadius: r, pointHoverRadius: r, pointBackgroundColor: color, pointBorderWidth: 0, order,
    tension: 0, borderCapStyle: 'round', borderJoinStyle: 'round', xAxisID: 'x', yAxisID: 'y'}));
}
function xLabel(v) { const i = xTickValues.findIndex(t => Math.abs(t - v) < 1e-6); return i >= 0 ? xTickLabels[i] : ''; }
function yLabel(v) { const i = yTickValues.findIndex(t => Math.abs(t - v) < 1e-6); return i >= 0 ? yTickLabels[i] : ''; }

function axisCommon() {
  return {
    grid: {display: true, drawOnChartArea: false, drawTicks: true, tickLength: 4, tickWidth: 1.2, tickColor: '#000', color: '#000'},
    border: {display: true, color: '#000', width: 2.4}
  };
}
function makeOptions(g, bold) {
  const tickFont = {family: FONT, size: 18, weight: bold ? 'bold' : 'normal'};
  return {
    responsive: false, animation: false, devicePixelRatio: 1, events: [],
    layout: {padding: {left: 0, right: g.padR, top: g.padT, bottom: 0}},
    plugins: {legend: {display: false}, tooltip: {enabled: false}},
    scales: {
      x: Object.assign(axisCommon(), {type: 'linear', position: 'bottom', min: -15, max: 20,
        ticks: {stepSize: 1, autoSkip: false, maxRotation: 0, padding: g.xPad, font: tickFont, color: '#000', callback: xLabel},
        afterFit: s => { s.height = g.xH; }}),
      xTop: Object.assign(axisCommon(), {type: 'linear', position: 'top', min: -15, max: 20,
        ticks: {stepSize: 1, autoSkip: false, display: false},
        afterFit: s => { s.height = 6; }}),
      y: Object.assign(axisCommon(), {type: 'linear', position: 'left', min: -1, max: 1,
        ticks: {stepSize: 0.1, autoSkip: false, padding: 1, font: tickFont, color: '#000', callback: yLabel},
        afterFit: s => { s.width = g.yW; }}),
      yR: Object.assign(axisCommon(), {type: 'linear', position: 'right', min: -1, max: 1,
        ticks: {stepSize: 0.1, autoSkip: false, display: false},
        afterFit: s => { s.width = 6; }})
    }
  };
}

function deco(cfg) {
  const ox = cfg.ox, oy = cfg.oy;
  function drawText(ctx, t) {
    const [s, x, y, o] = t;
    ctx.save();
    ctx.font = (o.weight || 'normal') + ' ' + o.size + 'px ' + FONT;
    ctx.fillStyle = o.color || '#000';
    ctx.letterSpacing = (o.ls || 0) + 'px';
    ctx.textBaseline = o.rot ? 'middle' : 'alphabetic';
    if (o.rot) {
      ctx.translate(x - ox, y - oy); ctx.rotate(-Math.PI / 2);
      ctx.textAlign = 'center'; ctx.fillText(s, 0, 0);
    } else {
      ctx.textAlign = 'left'; ctx.fillText(s, x - ox, y - oy);
    }
    ctx.restore();
  }
  return {
    id: 'deco' + cfg.name,
    beforeDraw(chart) { chart.ctx.letterSpacing = '1.5px'; },
    beforeDatasetsDraw(chart) {
      const ctx = chart.ctx, xs = chart.scales.x, ys = chart.scales.y, a = chart.chartArea;
      ctx.save();
      ctx.letterSpacing = '0px';
      ctx.strokeStyle = '#000';
      cfg.hLines.forEach(([v, w]) => { const y = ys.getPixelForValue(v); ctx.lineWidth = w; ctx.beginPath(); ctx.moveTo(a.left, y); ctx.lineTo(a.right, y); ctx.stroke(); });
      cfg.vLines.forEach(([v, w]) => { const x = xs.getPixelForValue(v); ctx.lineWidth = w; ctx.beginPath(); ctx.moveTo(x, a.top); ctx.lineTo(x, a.bottom); ctx.stroke(); });
      ctx.fillStyle = '#fff';
      cfg.masks.forEach(([x1, y1, x2, y2]) => ctx.fillRect(x1 - ox, y1 - oy, x2 - x1, y2 - y1));
      ctx.strokeStyle = '#fff'; ctx.lineCap = 'butt';
      cfg.leaders.forEach(([x1, y1, x2, y2, h]) => { ctx.lineWidth = h; ctx.beginPath(); ctx.moveTo(x1 - ox, y1 - oy); ctx.lineTo(x2 - ox, y2 - oy); ctx.stroke(); });
      ctx.restore();
    },
    afterDatasetsDraw(chart) {
      const ctx = chart.ctx;
      ctx.save();
      ctx.strokeStyle = '#000'; ctx.lineWidth = 1.5;
      cfg.leaders.forEach(([x1, y1, x2, y2]) => { ctx.beginPath(); ctx.moveTo(x1 - ox, y1 - oy); ctx.lineTo(x2 - ox, y2 - oy); ctx.stroke(); });
      ctx.restore();
      cfg.texts.forEach(t => drawText(ctx, t));
      ctx.letterSpacing = '1.5px';
    }
  };
}

function build(id, datasets, g, bold, cfg) {
  return new Chart(document.getElementById(id), {
    type: 'scatter',
    data: {datasets: datasets},
    options: makeOptions(g, bold),
    plugins: [deco(cfg)]
  });
}

// ---------- panel a, Jason-1 ----------
build('cA1', [].concat(
  chain(jasonVr07, PURPLE, 2.8, 4.2, 0),
  dots(jasonObs, RED, 2.9, 1),
  dots(jasonCycle109, GREEN, 1.3, 2),
  dots(jasonCycle108, GRAY, 1.2, 3)
), {padR: 13.5, padT: 34, xH: 36.5, yW: 81, xPad: 8}, false, {
  name: 'A1', ox: 0, oy: 0,
  hLines: [[0.5, 2], [0, 2], [-0.5, 2]], vLines: [[-10, 1.5], [0, 2], [10, 2]],
  masks: [[82, 42, 186, 75], [88, 197, 257, 254]],
  leaders: [[427.5, 89, 426, 123, 11], [545.7, 95, 545.7, 112, 13], [137.7, 178, 137.7, 200, 6], [539.3, 183, 543.3, 228, 22]],
  texts: [
    ['a', 7, 35, {size: 36, weight: 'bold'}],
    ['SSH [m]', 22, 145, {size: 24, rot: true, ls: 1}],
    ['Jason-1', 93, 68, {size: 21, ls: 1}],
    ['Cycle 108', 377, 80, {size: 18, ls: 1.2}],
    ['Cycle 109', 513, 86.5, {size: 18, ls: 1.2, color: GREEN_T}],
    ['observed SSH', 107, 224.3, {size: 21, ls: 1}],
    ['difference', 109.5, 243.5, {size: 21, ls: 1}],
    ['Vr=0.7 km/sec', 480, 253.3, {size: 21, ls: 0.3}]
  ]
});

// ---------- panel a, TOPEX ----------
build('cA2', [].concat(
  dots(topexObs, RED, 2.9, 0),
  chain(topexVr07, PURPLE, 2.8, 3, 1),
  dots(topexCycle452, GREEN, 1.3, 2),
  dots(topexCycle451, GRAY, 1.2, 3)
), {padR: 13.5, padT: 8.5, xH: 62.5, yW: 81, xPad: 8}, false, {
  name: 'A2', ox: 0, oy: 300,
  hLines: [[0.5, 2], [0, 2], [-0.5, 2]], vLines: [[-10, 1.5], [0, 2], [10, 2]],
  masks: [[82, 316, 290, 353]],
  leaders: [[394, 406.7, 391, 430, 8], [565, 398.3, 565, 415, 8]],
  texts: [
    ['SSH [m]', 22, 420, {size: 24, rot: true, ls: 1}],
    ['TOPEX / Poseidon', 90, 338.3, {size: 21, ls: 1}],
    ['Cycle 451', 373.3, 399.3, {size: 18, ls: 1.2}],
    ['Cycle 452', 496.7, 392.7, {size: 18, ls: 1.2, color: GREEN_T}],
    ['S', 87, 601.7, {size: 21}],
    ['N', 605, 601.7, {size: 21}],
    ['Latitude [degree]', 268, 605, {size: 24, ls: 1.5}]
  ]
});

// ---------- panel b, Jason-1 ----------
build('cB1', [].concat(
  chain(jasonVr25, BLUE, 2.7, 4.2, 0),
  chain(jasonVr30, GREEN, 2.7, 4.2, 1),
  dots(jasonObs, RED, 2.1, 2),
  chain(jasonVr25w700, GRAYTHICK, 0, 8, 3)
), {padR: 17, padT: 33, xH: 38, yW: 78, xPad: 8}, true, {
  name: 'B1', ox: 650, oy: 0,
  hLines: [[0.5, 1.6], [0, 1.2], [-0.5, 1.6]], vLines: [[-10, 1.5], [0, 2], [10, 1.5]],
  masks: [[729, 41, 836, 75], [738, 197, 907, 255], [1014, 46, 1273, 82], [1108, 227, 1275, 272]],
  leaders: [[788.3, 180, 788.3, 201.7, 6], [1077.3, 82, 1079.3, 136.7, 22], [1185, 198.3, 1187.3, 236.7, 14]],
  texts: [
    ['b', 672, 35, {size: 36, weight: 'bold'}],
    ['SSH [m]', 673, 145, {size: 24, rot: true, ls: 1}],
    ['Jason-1', 743, 68.3, {size: 21, ls: 1}],
    ['observed SSH', 756.7, 224.3, {size: 21, ls: 1}],
    ['difference', 759, 243.5, {size: 21, ls: 1}],
    ['Vr=2.5 km/sec (700 km)', 1018, 71.7, {size: 21, ls: 0.5, color: GRAY_T}],
    ['Vr=2.5 km/sec', 1115, 256.7, {size: 21, ls: 0.7, color: BLUE_T}]
  ]
});

// ---------- panel b, TOPEX ----------
build('cB2', [].concat(
  chain(topexVr25, BLUE, 2.4, 3, 0),
  chain(topexVr30, GREEN, 2.4, 3, 1),
  dots(topexObs, RED, 2.1, 2),
  chain(topexVr25w700, GRAYLIGHT, 2.2, 4, 3)
), {padR: 17, padT: 7, xH: 64, yW: 78, xPad: 8}, true, {
  name: 'B2', ox: 650, oy: 300,
  hLines: [[0.5, 1.6], [0, 1.6], [-0.5, 1.6]], vLines: [[-10, 1.5], [0, 2], [10, 1.5]],
  masks: [[729, 315, 940, 353], [866, 511, 1030, 546]],
  leaders: [[946.7, 500, 941.7, 511.7, 4]],
  texts: [
    ['SSH [m]', 673, 420, {size: 24, rot: true, ls: 1}],
    ['TOPEX / Poseidon', 740, 338.3, {size: 21, ls: 1}],
    ['Vr=3.0 km/sec', 873, 533.3, {size: 21, ls: 0.7, color: GREEN_T}],
    ['S', 737, 601.7, {size: 21}],
    ['N', 1253, 601.7, {size: 21}],
    ['Latitude [degree]', 918, 605, {size: 24, ls: 1.5}]
  ]
});
</script>
</body></html>
